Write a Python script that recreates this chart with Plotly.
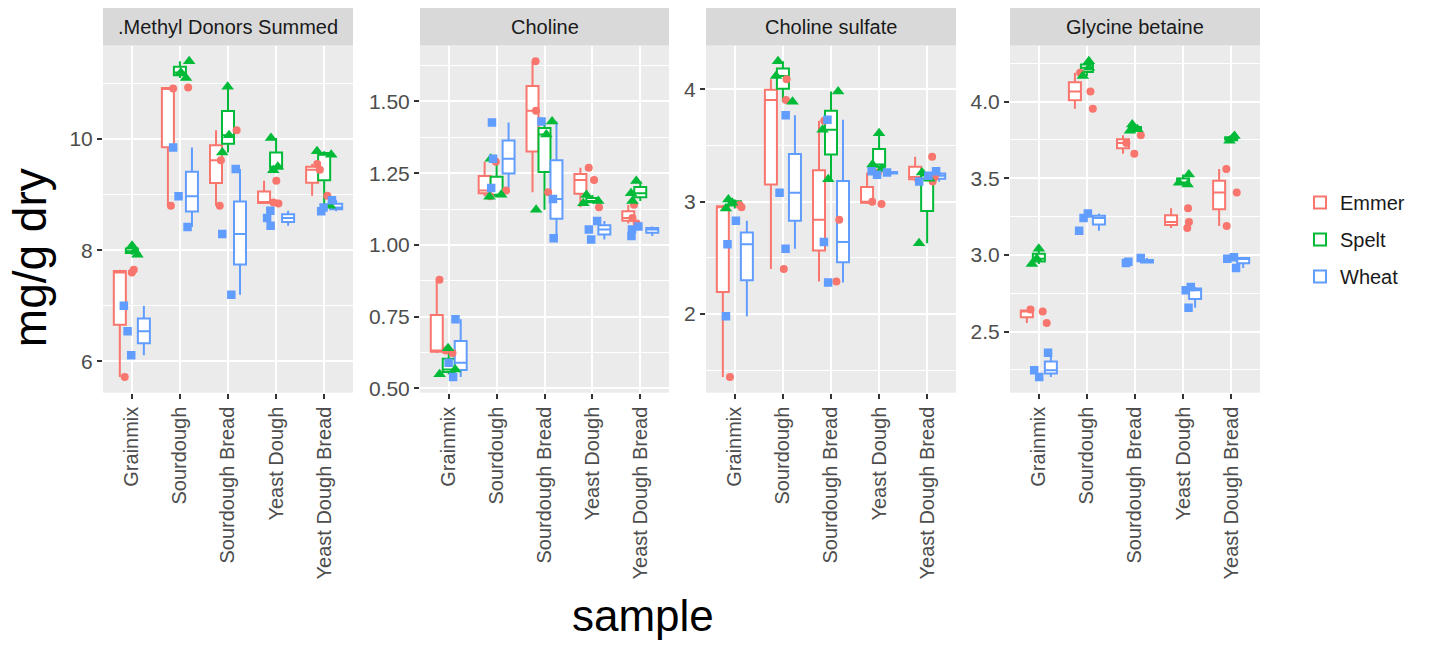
import numpy as np
import plotly.graph_objects as go

# ---------------- data ----------------
categories = ["Grainmix", "Sourdough", "Sourdough Bread", "Yeast Dough", "Yeast Dough Bread"]
species = ["Emmer", "Spelt", "Wheat"]
panel_titles = [".Methyl Donors Summed", "Choline", "Choline sulfate", "Glycine betaine"]

# values per category (Grainmix, Sourdough, Sourdough Bread, Yeast Dough, Yeast Dough Bread)
methyl_emmer = [[5.72, 7.60, 7.65], [8.80, 10.91, 10.93], [8.80, 9.62, 10.16], [8.84, 8.86, 9.25], [8.98, 9.45, 9.55]]
methyl_spelt = [[7.92, 7.98, 8.08], [11.10, 11.20, 11.40], [9.76, 10.07, 10.94], [9.44, 9.50, 10.02], [8.80, 9.72, 9.78]]
methyl_wheat = [[6.11, 6.54, 7.00], [8.42, 8.97, 9.85], [7.20, 8.29, 9.46], [8.44, 8.58, 8.71], [8.70, 8.77, 8.90]]

choline_emmer = [[0.623, 0.632, 0.879], [1.17, 1.19, 1.29], [1.184, 1.468, 1.64], [1.131, 1.226, 1.269], [1.075, 1.094, 1.140]]
choline_spelt = [[0.549, 0.566, 0.640], [1.168, 1.175, 1.30], [1.123, 1.385, 1.43], [1.145, 1.153, 1.174], [1.153, 1.18, 1.223]]
choline_wheat = [[0.540, 0.589, 0.741], [1.198, 1.30, 1.427], [1.023, 1.16, 1.43], [1.019, 1.054, 1.083], [1.031, 1.054, 1.064]]

sulfate_emmer = [[1.44, 2.95, 2.97], [2.40, 3.905, 4.09], [2.29, 2.84, 3.72], [2.98, 3.00, 3.26], [3.18, 3.22, 3.40]]
sulfate_spelt = [[2.94, 2.99, 3.02], [3.89, 4.12, 4.25], [3.20, 3.64, 3.98], [3.29, 3.33, 3.61], [2.63, 3.205, 3.26]]
sulfate_wheat = [[1.98, 2.62, 2.83], [2.58, 3.08, 3.77], [2.28, 2.64, 3.73], [3.24, 3.26, 3.27], [3.18, 3.23, 3.27]]

betaine_emmer = [[2.555, 2.63, 2.643], [3.953, 4.066, 4.188], [3.66, 3.73, 3.78], [3.176, 3.214, 3.304], [3.189, 3.407, 3.561]]
betaine_spelt = [[2.94, 2.975, 3.04], [4.167, 4.22, 4.263], [3.81, 3.82, 3.85], [3.46, 3.471, 3.525], [3.745, 3.76, 3.775]]
betaine_wheat = [[2.204, 2.247, 2.362], [3.157, 3.24, 3.27], [2.947, 2.955, 2.979], [2.655, 2.77, 2.79], [2.915, 2.975, 2.985]]

panel_data = [
    [methyl_emmer, methyl_spelt, methyl_wheat],
    [choline_emmer, choline_spelt, choline_wheat],
    [sulfate_emmer, sulfate_spelt, sulfate_wheat],
    [betaine_emmer, betaine_spelt, betaine_wheat],
]

y_tickvals = [[6, 8, 10], [0.5, 0.75, 1.0, 1.25, 1.5], [2, 3, 4], [2.5, 3.0, 3.5, 4.0]]
y_ticktext = [["6", "8", "10"], ["0.50", "0.75", "1.00", "1.25", "1.50"], ["2", "3", "4"], ["2.5", "3.0", "3.5", "4.0"]]

# ---------------- style ----------------
W, H = 1440, 646
colors = ["#F8766D", "#00BA38", "#619CFF"]
symbols = ["circle", "triangle-up", "square"]
msizes = [8, 11, 8.5]
dodge = [-0.25, 0.0, 0.25]
FONT = "Liberation Sans, Arial, sans-serif"
panel_x_px = [(103, 353), (420, 669), (706, 956), (1010, 1260)]
panel_top, panel_bottom = 46, 397
strip_top = 8

fig = go.Figure()
rng = np.random.default_rng(11)

for p in range(4):
    ax = "" if p == 0 else str(p + 1)
    xref, yref = "x" + ax, "y" + ax
    allv = []
    # boxes
    for s in range(3):
        groups = panel_data[p][s]
        q1 = [float(np.percentile(g, 25)) for g in groups]
        med = [float(np.percentile(g, 50)) for g in groups]
        q3 = [float(np.percentile(g, 75)) for g in groups]
        lo = [float(min(g)) for g in groups]
        hi = [float(max(g)) for g in groups]
        for g in groups:
            allv.extend(g)
        fig.add_trace(go.Box(
            x=[i + dodge[s] for i in range(len(categories))],
            q1=q1, median=med, q3=q3, lowerfence=lo, upperfence=hi,
            width=0.25, whiskerwidth=0, boxpoints=False,
            fillcolor="white", line=dict(color=colors[s], width=2),
            name=species[s], legendgroup=species[s], showlegend=(p == 0),
            xaxis=xref, yaxis=yref, hoverinfo="skip",
        ))
    # points
    for s in range(3):
        groups = panel_data[p][s]
        xs, ys = [], []
        for i, g in enumerate(groups):
            for v in g:
                xs.append(i + rng.uniform(-0.2, 0.2))
                ys.append(v)
        fig.add_trace(go.Scatter(
            x=xs, y=ys, mode="markers",
            marker=dict(symbol=symbols[s], size=msizes[s], color=colors[s], line=dict(width=0)),
            name=species[s], legendgroup=species[s], showlegend=False,
            xaxis=xref, yaxis=yref, hoverinfo="skip",
        ))

    vmin, vmax = min(allv), max(allv)
    span = vmax - vmin
    yr = [vmin - 0.05 * span, vmax + 0.05 * span]
    tv = y_tickvals[p]
    step = tv[1] - tv[0]
    minor_vals = [t + step / 2 for t in tv] + [tv[0] - step / 2]

    x0, x1 = panel_x_px[p]
    fig.layout["xaxis" + ax] = dict(
        domain=[x0 / W, x1 / W], range=[-0.6, 4.6], anchor=yref,
        tickmode="array", tickvals=list(range(len(categories))), ticktext=categories,
        tickangle=-90, ticks="outside", ticklen=5, tickwidth=1.5, tickcolor="#333333",
        showgrid=True, gridcolor="white", gridwidth=2, zeroline=False, showline=False,
        tickfont=dict(family=FONT, size=20, color="#4D4D4D"), fixedrange=True,
    )
    fig.layout["yaxis" + ax] = dict(
        domain=[1 - panel_bottom / H, 1 - panel_top / H], range=yr, anchor=xref,
        tickmode="array", tickvals=tv, ticktext=y_ticktext[p],
        ticks="outside", ticklen=5, tickwidth=1.5, tickcolor="#333333",
        showgrid=True, gridcolor="white", gridwidth=2, zeroline=False, showline=False,
        minor=dict(tickmode="array", tickvals=minor_vals, showgrid=True, gridcolor="white", gridwidth=1, ticks=""),
        tickfont=dict(family=FONT, size=21, color="#4D4D4D"), fixedrange=True,
    )
    # strip
    fig.add_shape(type="rect", xref="paper", yref="paper",
                  x0=x0 / W, x1=x1 / W, y0=1 - panel_top / H, y1=1 - strip_top / H,
                  fillcolor="#D9D9D9", line=dict(width=0))
    fig.add_annotation(xref="paper", yref="paper", x=(x0 + x1) / 2 / W,
                       y=1 - (strip_top + panel_top) / 2 / H, text=panel_titles[p],
                       showarrow=False, xanchor="center", yanchor="middle",
                       font=dict(family=FONT, size=20, color="#1A1A1A"))

fig.add_annotation(xref="paper", yref="paper", x=30 / W, y=1 - 261 / H, text="mg/g dry",
                   textangle=-90, showarrow=False, xanchor="center", yanchor="middle",
                   font=dict(family=FONT, size=46, color="black"))
fig.add_annotation(xref="paper", yref="paper", x=643 / W, y=1 - 622 / H, text="sample",
                   showarrow=False, xanchor="center", yanchor="middle",
                   font=dict(family=FONT, size=44, color="black"))

fig.update_layout(
    width=W, height=H, margin=dict(l=0, r=0, t=0, b=0),
    paper_bgcolor="white", plot_bgcolor="#EBEBEB",
    boxmode="overlay",
    legend=dict(x=1300 / W, y=1 - 185 / H, xanchor="left", yanchor="top",
                font=dict(family=FONT, size=20, color="#1A1A1A"),
                tracegroupgap=8, bgcolor="rgba(0,0,0,0)"),
)

fig.write_html("out.html")
